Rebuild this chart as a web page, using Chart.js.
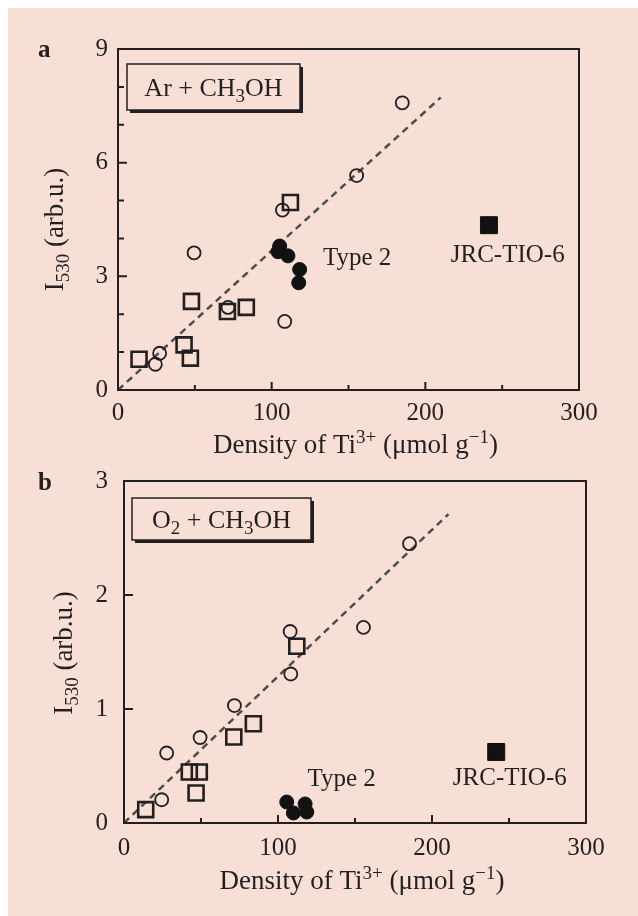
<!DOCTYPE html>
<html><head><meta charset="utf-8">
<script src="https://cdn.jsdelivr.net/npm/chart.js@4.4.1/dist/chart.umd.min.js"></script>
<style>
html,body{margin:0;padding:0;background:#fff;}
#bg{position:absolute;left:8px;top:8px;width:630px;height:908px;background:#f8dfd5;}
#wa{position:absolute;left:0;top:0;width:638px;height:480px;}
#wb{position:absolute;left:0;top:440px;width:638px;height:476px;}
canvas{display:block}
</style></head><body>
<div id="bg"></div>
<div id="wa"><canvas id="ca" width="638" height="480"></canvas></div>
<div id="wb"><canvas id="cb" width="638" height="476"></canvas></div>
<script>
// ---------- data ----------
const xTickValues = [0, 100, 200, 300];
const xMinorValues = [50, 150, 250];

// panel a : Ar + CH3OH
const aYTickValues = [0, 3, 6, 9];
const aYMinorValues = [1, 2, 4, 5, 7, 8];
const aCircleX = [185, 155.3, 107, 108.5, 49.5, 71.6, 27.1, 24.3];
const aCircleY = [7.58, 5.66, 4.75, 1.81, 3.62, 2.18, 0.97, 0.68];
const aSquareX = [112.2, 47.8, 71.2, 83.5, 43, 47.1, 13.7];
const aSquareY = [4.95, 2.34, 2.07, 2.18, 1.19, 0.84, 0.81];
const aType2X = [105.2, 104.1, 110.6, 118.2, 117.6];
const aType2Y = [3.80, 3.65, 3.54, 3.18, 2.83];
const aJrcX = [241.4];
const aJrcY = [4.35];
const aFitX = [0, 210];
const aFitY = [0, 7.72];

// panel b : O2 + CH3OH
const bYTickValues = [0, 1, 2, 3];
const bYMinorValues = [];
const bCircleX = [185.4, 155.5, 107.9, 108.3, 71.7, 49.4, 27.7, 24.5];
const bCircleY = [2.45, 1.716, 1.68, 1.307, 1.03, 0.75, 0.614, 0.204];
const bSquareX = [112.2, 84, 71.3, 42.4, 48.9, 46.8, 14.1];
const bSquareY = [1.55, 0.87, 0.754, 0.447, 0.447, 0.263, 0.117];
const bType2X = [105.7, 117.6, 110, 118.7];
const bType2Y = [0.184, 0.167, 0.088, 0.096];
const bJrcX = [241.7];
const bJrcY = [0.623];
const bFitX = [0, 210.7];
const bFitY = [0, 2.71];

// ---------- style ----------
const FONT = '"Liberation Serif","Times New Roman",serif';
const INK = '#231f20';
const BG = '#f8dfd5';

function pts(xs, ys) { return xs.map((x, i) => ({x: x, y: ys[i]})); }

function fontFor(p, size) {
  const s = (p.sub || p.sup) ? Math.round(size * 0.72) : size;
  return (p.bold ? 'bold ' : '') + s + 'px ' + FONT;
}
function richWidth(ctx, parts, size) {
  let w = 0;
  parts.forEach(p => { ctx.font = fontFor(p, size); w += ctx.measureText(p.t).width; });
  return w;
}
function drawRich(ctx, parts, x, y, size, align) {
  const w = richWidth(ctx, parts, size);
  let cx = align === 'center' ? x - w / 2 : (align === 'right' ? x - w : x);
  ctx.textAlign = 'left';
  ctx.textBaseline = 'alphabetic';
  parts.forEach(p => {
    ctx.font = fontFor(p, size);
    const dy = p.sup ? -0.38 * size : (p.sub ? 0.22 * size : 0);
    ctx.fillText(p.t, cx, y + dy);
    cx += ctx.measureText(p.t).width;
  });
}

function makePanelPlugin(cfg) {
  return {
    id: 'panel_' + cfg.letter,
    afterDraw(chart) {
      const ctx = chart.ctx;
      const ca = chart.chartArea;
      const xs = chart.scales.x, ys = chart.scales.y;
      ctx.save();
      ctx.strokeStyle = INK;
      ctx.fillStyle = INK;
      // frame
      ctx.lineWidth = 2;
      ctx.strokeRect(ca.left, ca.top, ca.right - ca.left, ca.bottom - ca.top);
      // inward ticks
      ctx.lineWidth = 2;
      ctx.beginPath();
      cfg.xMajor.forEach(v => { const p = xs.getPixelForValue(v); ctx.moveTo(p, ca.bottom); ctx.lineTo(p, ca.bottom - 8); });
      cfg.xMinor.forEach(v => { const p = xs.getPixelForValue(v); ctx.moveTo(p, ca.bottom); ctx.lineTo(p, ca.bottom - 5); });
      cfg.yMajor.forEach(v => { const p = ys.getPixelForValue(v); ctx.moveTo(ca.left, p); ctx.lineTo(ca.left + 9, p); });
      cfg.yMinor.forEach(v => { const p = ys.getPixelForValue(v); ctx.moveTo(ca.left, p); ctx.lineTo(ca.left + 6, p); });
      ctx.stroke();
      // legend box with shadow
      const b = cfg.box;
      const bx = ca.left + b.dx, by = ca.top + b.dy;
      ctx.fillStyle = INK;
      ctx.fillRect(bx + 3, by + 3, b.w, b.h);
      ctx.fillStyle = BG;
      ctx.fillRect(bx, by, b.w, b.h);
      ctx.lineWidth = 1.5;
      ctx.strokeRect(bx, by, b.w, b.h);
      ctx.fillStyle = INK;
      drawRich(ctx, cfg.boxText, bx + b.w / 2, by + b.base, 26, 'center');
      // annotations at data coordinates
      cfg.notes.forEach(n => {
        drawRich(ctx, [{t: n.t}], xs.getPixelForValue(n.x), ys.getPixelForValue(n.y), 25, n.align);
      });
      // axis titles
      const midX = (ca.left + ca.right) / 2;
      drawRich(ctx, cfg.xTitle, midX + cfg.xTitleDx, ca.bottom + cfg.xTitleDy, 27, 'center');
      ctx.save();
      ctx.translate(ca.left - cfg.yTitleDx, (ca.top + ca.bottom) / 2 + cfg.yTitleDy);
      ctx.rotate(-Math.PI / 2);
      drawRich(ctx, cfg.yTitle, 0, 0, 27, 'center');
      ctx.restore();
      // panel letter
      drawRich(ctx, [{t: cfg.letter, bold: true}], ca.left - cfg.letterDx, ca.top + cfg.letterDy, 25, 'left');
      ctx.restore();
    }
  };
}

const xTitleParts = [{t: 'Density of Ti'}, {t: '3+', sup: 1}, {t: ' (\u03bcmol g'}, {t: '\u22121', sup: 1}, {t: ')'}];
const yTitleParts = [{t: 'I'}, {t: '530', sub: 1}, {t: ' (arb.u.)'}];

function makeDatasets(cx, cy, sx, sy, tx, ty, jx, jy, fx, fy) {
  return [
    {data: pts(cx, cy), pointStyle: 'circle', pointRadius: 6.5, borderWidth: 1.8, borderColor: INK, backgroundColor: 'rgba(0,0,0,0)'},
    {data: pts(sx, sy), pointStyle: 'rect', pointRadius: 10.6, borderWidth: 2.6, borderColor: INK, backgroundColor: 'rgba(0,0,0,0)'},
    {data: pts(tx, ty), pointStyle: 'circle', pointRadius: 7, borderWidth: 1, borderColor: '#111', backgroundColor: '#111'},
    {data: pts(jx, jy), pointStyle: 'rect', pointRadius: 12, borderWidth: 1, borderColor: '#111', backgroundColor: '#111'},
    {data: pts(fx, fy), showLine: true, pointRadius: 0, borderColor: '#4d4d4d', borderWidth: 2.5, borderDash: [7, 5], fill: false}
  ];
}

function makeChart(id, cfg) {
  return new Chart(document.getElementById(id), {
    type: 'scatter',
    data: {datasets: cfg.datasets},
    options: {
      responsive: false,
      animation: false,
      devicePixelRatio: 1,
      layout: {padding: {left: 0, right: cfg.padRight, top: cfg.padTop, bottom: 0}},
      plugins: {legend: {display: false}, tooltip: {enabled: false}},
      events: [],
      scales: {
        x: {
          type: 'linear', min: 0, max: 300,
          afterFit: s => { s.height = cfg.xAxisHeight; },
          afterBuildTicks: s => { s.ticks = xTickValues.map(v => ({value: v})); },
          grid: {display: false, drawTicks: false},
          border: {display: false},
          ticks: {padding: cfg.xPad, color: INK, font: {family: FONT, size: 25}, maxRotation: 0, autoSkip: false}
        },
        y: {
          type: 'linear', min: 0, max: cfg.yMax,
          afterFit: s => { s.width = cfg.yAxisWidth; },
          afterBuildTicks: s => { s.ticks = cfg.yMajor.map(v => ({value: v})); },
          grid: {display: false, drawTicks: false},
          border: {display: false},
          ticks: {padding: cfg.yPad, color: INK, font: {family: FONT, size: 25}, autoSkip: false}
        }
      }
    },
    plugins: [makePanelPlugin(cfg)]
  });
}

const cfgA = {
  letter: 'a', yMax: 9,
  xMajor: [100, 200], xMinor: xMinorValues, yMajor: aYTickValues, yMinor: aYMinorValues,
  padRight: 59, padTop: 49, xAxisHeight: 90, yAxisWidth: 118, xPad: 8, yPad: 10,
  box: {dx: 9, dy: 15, w: 173, h: 46, base: 32},
  boxText: [{t: 'Ar + CH'}, {t: '3', sub: 1}, {t: 'OH'}],
  notes: [{t: 'Type 2', x: 133.4, y: 3.30, align: 'left'}, {t: 'JRC-TIO-6', x: 253.6, y: 3.385, align: 'center'}],
  xTitle: xTitleParts, xTitleDx: 7, xTitleDy: 63,
  yTitle: yTitleParts, yTitleDx: 55, yTitleDy: 10,
  letterDx: 80, letterDy: 8,
  datasets: makeDatasets(aCircleX, aCircleY, aSquareX, aSquareY, aType2X, aType2Y, aJrcX, aJrcY, aFitX, aFitY)
};
const cfgB = {
  letter: 'b', yMax: 3,
  xMajor: [100, 200], xMinor: xMinorValues, yMajor: bYTickValues, yMinor: bYMinorValues,
  padRight: 52, padTop: 41, xAxisHeight: 93, yAxisWidth: 124, xPad: 10, yPad: 16,
  box: {dx: 8, dy: 17, w: 179, h: 42, base: 30},
  boxText: [{t: 'O'}, {t: '2', sub: 1}, {t: ' + CH'}, {t: '3', sub: 1}, {t: 'OH'}],
  notes: [{t: 'Type 2', x: 119.1, y: 0.321, align: 'left'}, {t: 'JRC-TIO-6', x: 250.5, y: 0.33, align: 'center'}],
  xTitle: xTitleParts, xTitleDx: 7, xTitleDy: 66,
  yTitle: yTitleParts, yTitleDx: 52, yTitleDy: 1,
  letterDx: 86, letterDy: 9,
  datasets: makeDatasets(bCircleX, bCircleY, bSquareX, bSquareY, bType2X, bType2Y, bJrcX, bJrcY, bFitX, bFitY)
};

makeChart('ca', cfgA);
makeChart('cb', cfgB);
</script>
</body></html>
